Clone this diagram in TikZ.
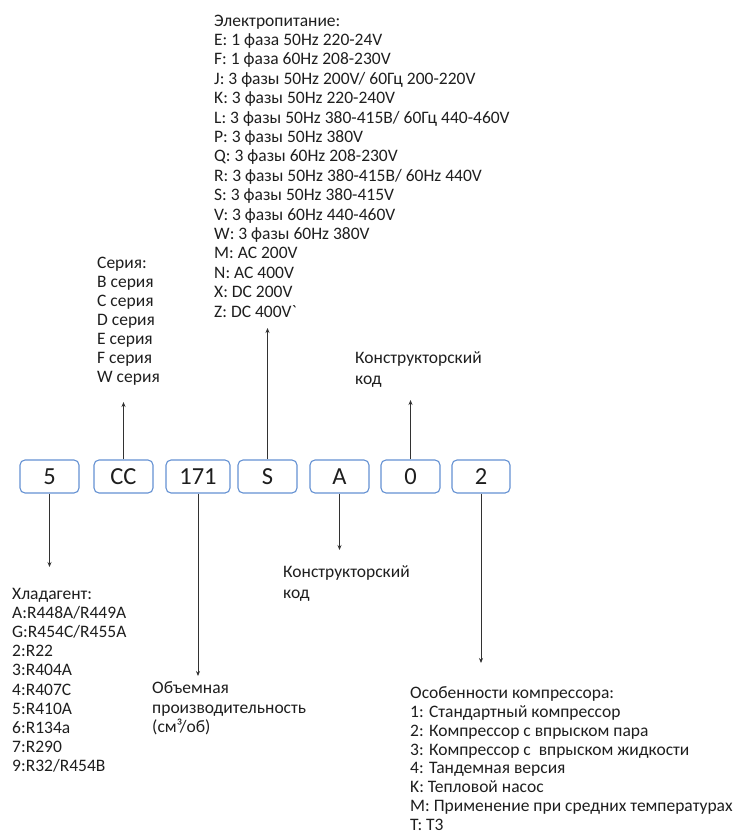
\documentclass[tikz,border=0pt]{standalone}
\usepackage{fontspec}
\setmainfont{Carlito}
\usetikzlibrary{arrows.meta}
\definecolor{boxblue}{RGB}{100,145,210}
\definecolor{txt}{RGB}{30,30,30}
\definecolor{arr}{RGB}{50,50,50}
\begin{document}
\begin{tikzpicture}[x=1pt,y=-1pt,
  codebox/.style={draw=boxblue,line width=1.1pt,rounded corners=5pt,minimum height=33pt,inner sep=0pt,font=\fontsize{24.5}{26}\selectfont,text=txt},
  label/.style={anchor=north west,align=left,inner sep=0pt,text=txt,font=\fontsize{17.5}{19.4}\selectfont},
  conn/.style={draw=arr,line width=0.9pt,-{Stealth[length=5pt,width=4pt]}}]
\useasboundingbox (0,0) rectangle (739,836);
% code boxes
\node[codebox,minimum width=59pt] (b1) at (49.5,476.5) {5};
\node[codebox,minimum width=59pt] (b2) at (123.5,476.5) {CC};
\node[codebox,minimum width=64pt] (b3) at (198,476.5) {171};
\node[codebox,minimum width=59pt] (b4) at (267.5,476.5) {S};
\node[codebox,minimum width=59pt] (b5) at (339.5,476.5) {A};
\node[codebox,minimum width=59pt] (b6) at (410.5,476.5) {0};
\node[codebox,minimum width=58pt] (b7) at (481,476.5) {2};
% arrow ends
\coordinate (e1) at (49.5,567);
\coordinate (e2) at (123.5,402);
\coordinate (e3) at (198,676);
\coordinate (e4) at (267.5,328);
\coordinate (e5) at (339.5,550);
\coordinate (e6) at (410.5,400);
\coordinate (e7) at (481,663);
\draw[conn] (b1.south) -- (e1);
\draw[conn] (b2.north) -- (e2);
\draw[conn] (b3.south) -- (e3);
\draw[conn] (b4.north) -- (e4);
\draw[conn] (b5.south) -- (e5);
\draw[conn] (b6.north) -- (e6);
\draw[conn] (b7.south) -- (e7);
% texts
\node[label] (power) at (214,14.6) {Электропитание:\\
E: 1 фаза 50Hz 220-24V\\
F: 1 фаза 60Hz 208-230V\\
J: 3 фазы 50Hz 200V/ 60Гц 200-220V\\
K: 3 фазы 50Hz 220-240V\\
L: 3 фазы 50Hz 380-415B/ 60Гц 440-460V\\
P: 3 фазы 50Hz 380V\\
Q: 3 фазы 60Hz 208-230V\\
R: 3 фазы 50Hz 380-415B/ 60Hz 440V\\
S: 3 фазы 50Hz 380-415V\\
V: 3 фазы 60Hz 440-460V\\
W: 3 фазы 60Hz 380V\\
M: AC 200V\\
N: AC 400V\\
X: DC 200V\\
Z: DC 400V\textasciigrave};
\node[label,font=\fontsize{17.5}{19}\selectfont] (series) at (97,256.6) {Серия:\\
B серия\\
C серия\\
D серия\\
E серия\\
F серия\\
W серия};
\node[label,font=\fontsize{17.5}{21}\selectfont] (design1) at (355,351) {Конструкторский\\код};
\node[label,font=\fontsize{17.5}{21}\selectfont] (design2) at (283,565) {Конструкторский\\код};
\node[label,font=\fontsize{17.5}{19.2}\selectfont] (refr) at (12,587.6) {Хладагент:\\
A:R448A/R449A\\
G:R454C/R455A\\
2:R22\\
3:R404A\\
4:R407C\\
5:R410A\\
6:R134a\\
7:R290\\
9:R32/R454B};
\node[label,font=\fontsize{17.5}{19.5}\selectfont] (vol) at (152,681.6) {Объемная\\
производительность\\
(см³/об)};
\node[label,font=\fontsize{17.5}{18.8}\selectfont] (feat) at (410,686.5) {Особенности компрессора:\\
1: Стандартный компрессор\\
2: Компрессор с впрыском пара\\
3: Компрессор с\ \ впрыском жидкости\\
4: Тандемная версия\\
K: Тепловой насос\\
M: Применение при средних температурах\\
T: T3};
\end{tikzpicture}
\end{document}
